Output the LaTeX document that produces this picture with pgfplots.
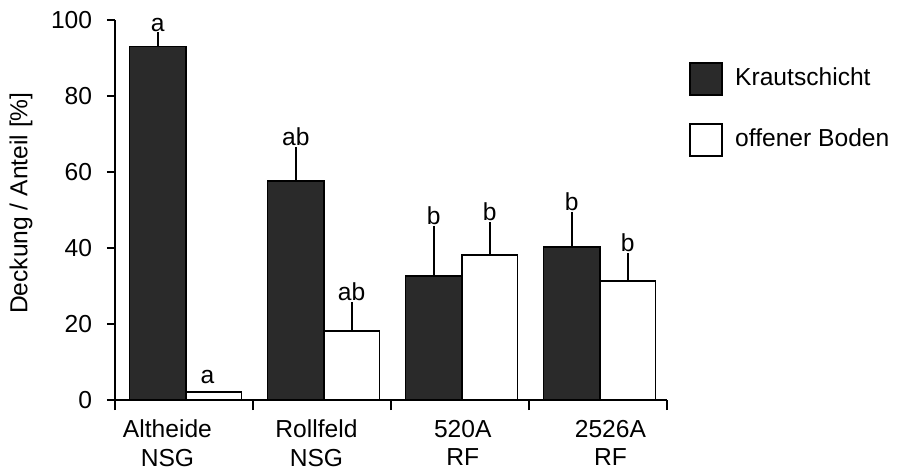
\documentclass[border=0pt]{standalone}
\usepackage{pgfplots}
\pgfplotsset{compat=1.18}
\usepackage{fontspec}
\setmainfont{Liberation Sans}
\definecolor{kraut}{RGB}{42,42,42}
\begin{document}
\begin{tikzpicture}[font=\fontsize{12.3}{14.2}\selectfont]
\useasboundingbox (-57.5pt,-36pt) rectangle (392pt,200pt);
\begin{axis}[
  scale only axis, width=276pt, height=190pt,
  xmin=-0.5, xmax=3.5, ymin=0, ymax=100,
  axis x line*=bottom, axis y line*=left,
  axis line style={line width=0.9pt, black},
  every tick/.style={line width=0.9pt, black},
  tick align=outside,
  xtick={-0.12,0.96,2.02,3.09},
  xticklabels={{Altheide\\NSG},{Rollfeld\\NSG},{520A\\RF},{2526A\\RF}},
  xticklabel style={align=center, inner sep=0pt, anchor=north, yshift=-5.5pt},
  minor xtick={-0.5,0.5,1.5,2.5,3.5},
  xtick style={/pgfplots/major tick length=0pt, /pgfplots/minor tick length=5pt},
  ytick={0,20,40,60,80,100},
  ytick style={/pgfplots/major tick length=4pt},
  /pgf/number format/assume math mode=true,
  yticklabel style={inner sep=0pt, xshift=-7pt},
  ylabel={Deckung / Anteil [\%]},
  ylabel style={at={(axis description cs:-0.1486,0.518)}, anchor=south, inner sep=0pt},
  legend style={draw=none, fill=none, at={(axis description cs:1.0399,0.8895)}, anchor=north west, inner sep=0pt, row sep=13.5pt, column sep=6pt, nodes={inner sep=0pt}, font=\fontsize{12.3}{14.2}\selectfont},
  legend cell align=left,
  legend image code/.code={\draw[#1] (0pt,-8.6pt) rectangle (16pt,7.4pt);},
]
\addplot[forget plot, ybar, bar width=0.41, bar shift=0pt, fill=kraut, draw=black, line width=0.75pt,
  error bars/.cd, y dir=plus, y explicit, error mark=-, error bar style={line width=0.9pt, black}, error mark options={mark size=2.5pt, line width=0.9pt, black}]
  table[x=x, y=y, y error=e] {
x y e
-0.19 93.0 2.4
0.81 57.6 7.6
1.81 32.6 11.9
2.81 40.3 7.9
};
\addplot[forget plot, ybar, bar width=0.40, bar shift=0pt, fill=white, draw=black, line width=0.75pt]
  table[x=x, y=y] {
x y
0.215 2.1
};
\addplot[forget plot, ybar, bar width=0.40, bar shift=0pt, fill=white, draw=black, line width=0.75pt,
  error bars/.cd, y dir=plus, y explicit, error mark=-, error bar style={line width=0.9pt, black}, error mark options={mark size=2.5pt, line width=0.9pt, black}]
  table[x=x, y=y, y error=e] {
x y e
1.215 18.2 6.2
2.215 38.2 7.2
3.215 31.3 6.0
};
\addplot[forget plot, draw=none, mark=none, nodes near coords, point meta=explicit symbolic,
  every node near coord/.style={anchor=south, inner sep=0pt, yshift=3pt, black, font=\fontsize{12.3}{14.2}\selectfont}]
  table[x=x, y=y, meta=l] {
x y l
-0.19 95.2 a
0.17 2.6 a
0.81 65.2 ab
1.215 24.4 ab
1.81 44.5 b
2.215 45.4 b
2.81 48.2 b
3.215 37.3 b
};
\addlegendimage{fill=kraut, draw=black, line width=0.9pt}
\addlegendentry{Krautschicht}
\addlegendimage{fill=white, draw=black, line width=0.9pt}
\addlegendentry{offener Boden}
\end{axis}
\end{tikzpicture}
\end{document}
